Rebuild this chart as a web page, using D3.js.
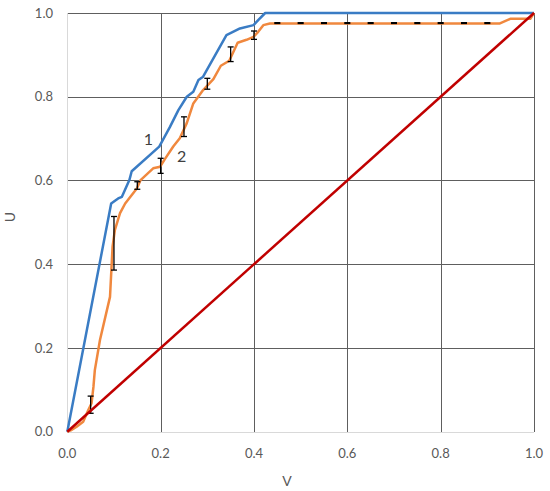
<!DOCTYPE html>
<meta charset="utf-8">
<style>
body { margin: 0; background: #fff; }
#chart { position: absolute; left: 0; top: 0; }
.grid line { stroke: #5e5e5e; stroke-width: 1px; shape-rendering: crispEdges; }
.axis-line { stroke: #d9d9d9; stroke-width: 1px; shape-rendering: crispEdges; }
.tick-label { font-family: Lato, "Open Sans", sans-serif; font-size: 13px; fill: #595959; }
.axis-title { font-family: Lato, "Open Sans", sans-serif; font-size: 14px; fill: #595959; }
.curve-label { font-family: Lato, "Open Sans", sans-serif; font-size: 16px; fill: #404040; }
.curve { fill: none; stroke-width: 2.5px; stroke-linejoin: round; }
.errbar { stroke: #000; stroke-width: 1.3px; }
</style>
<div id="chart"></div>
<script src="https://d3js.org/d3.v7.min.js"></script>
<script>
  // curve 1 (blue)
  var curve1_v = [0, 0.094, 0.109, 0.117, 0.133, 0.138, 0.197, 0.22, 0.238, 0.256, 0.27, 0.281, 0.291, 0.341, 0.37, 0.399, 0.409, 0.424, 1.0];
  var curve1_u = [0, 0.545, 0.557, 0.561, 0.601, 0.622, 0.681, 0.728, 0.768, 0.8, 0.812, 0.84, 0.848, 0.947, 0.963, 0.971, 0.983, 1.0, 1.0];

  // curve 2 (orange)
  var curve2_v = [0, 0.009, 0.02, 0.034, 0.045, 0.052, 0.056, 0.059, 0.07, 0.0915, 0.097, 0.102, 0.113, 0.124, 0.149, 0.157, 0.184, 0.199, 0.209, 0.227, 0.241, 0.256, 0.27, 0.291, 0.313, 0.329, 0.347, 0.365, 0.384, 0.399, 0.409, 0.42, 0.434, 0.927, 0.949, 0.992, 1.0];
  var curve2_u = [0, 0.004, 0.012, 0.024, 0.052, 0.068, 0.107, 0.147, 0.219, 0.322, 0.442, 0.482, 0.522, 0.545, 0.581, 0.601, 0.629, 0.633, 0.651, 0.681, 0.701, 0.737, 0.784, 0.816, 0.842, 0.874, 0.886, 0.929, 0.936, 0.943, 0.955, 0.971, 0.975, 0.975, 0.986, 0.986, 1.0];

  // error bars on curve 2
  var err_v  = [0.05, 0.1, 0.15, 0.2, 0.25, 0.3, 0.35, 0.4, 0.45, 0.5, 0.55, 0.6, 0.65, 0.7, 0.75, 0.8, 0.85, 0.9];
  var err_lo = [0.044, 0.386, 0.579, 0.617, 0.705, 0.818, 0.884, 0.937, 0.975, 0.975, 0.975, 0.975, 0.975, 0.975, 0.975, 0.975, 0.975, 0.975];
  var err_hi = [0.085, 0.514, 0.597, 0.653, 0.752, 0.844, 0.919, 0.957, 0.977, 0.977, 0.977, 0.977, 0.977, 0.977, 0.977, 0.977, 0.977, 0.977];

  // diagonal
  var diag_v = [0, 1];
  var diag_u = [0, 1];

  var ticks = [0, 0.2, 0.4, 0.6, 0.8, 1.0];
  var labels = [{text: "1", v: 0.174, u: 0.697}, {text: "2", v: 0.245, u: 0.657}];

  var width = 550, height = 491;
  var plotLeft = 67.3, plotRight = 534, plotTop = 13, plotBottom = 431.7;

  var x = d3.scaleLinear().domain([0, 1]).range([plotLeft, plotRight]);
  var y = d3.scaleLinear().domain([0, 1]).range([plotBottom, plotTop]);

  var svg = d3.select("#chart").append("svg")
    .attr("width", width)
    .attr("height", height);

  // gridlines
  var grid = svg.append("g").attr("class", "grid");
  grid.selectAll(".h").data(ticks.slice(1)).enter().append("line")
    .attr("x1", plotLeft).attr("x2", plotRight)
    .attr("y1", function(d) { return Math.round(y(d)) + 0.5; })
    .attr("y2", function(d) { return Math.round(y(d)) + 0.5; });
  grid.selectAll(".v").data(ticks.slice(1)).enter().append("line")
    .attr("y1", plotTop).attr("y2", plotBottom)
    .attr("x1", function(d) { return Math.round(x(d)) + 0.5; })
    .attr("x2", function(d) { return Math.round(x(d)) + 0.5; });

  svg.append("line").attr("class", "axis-line")
    .attr("x1", Math.round(plotLeft) + 0.5).attr("x2", Math.round(plotLeft) + 0.5)
    .attr("y1", plotTop).attr("y2", plotBottom);
  svg.append("line").attr("class", "axis-line")
    .attr("x1", plotLeft).attr("x2", plotRight)
    .attr("y1", Math.round(plotBottom) + 0.5).attr("y2", Math.round(plotBottom) + 0.5);

  // tick labels
  svg.selectAll(".ylab").data(ticks).enter().append("text")
    .attr("class", "tick-label")
    .attr("x", 53)
    .attr("y", function(d) { return y(d); })
    .attr("dy", "0.35em")
    .attr("text-anchor", "end")
    .text(function(d) { return d3.format(".1f")(d); });
  svg.selectAll(".xlab").data(ticks).enter().append("text")
    .attr("class", "tick-label")
    .attr("x", function(d) { return x(d); })
    .attr("y", 458)
    .attr("text-anchor", "middle")
    .text(function(d) { return d3.format(".1f")(d); });

  svg.append("text").attr("class", "axis-title")
    .attr("x", 287).attr("y", 486)
    .attr("text-anchor", "middle")
    .text("V");
  svg.append("text").attr("class", "axis-title")
    .attr("transform", "translate(15,217) rotate(-90)")
    .attr("text-anchor", "middle")
    .text("U");

  var line = d3.line()
    .x(function(d) { return x(d[0]); })
    .y(function(d) { return y(d[1]); });

  svg.append("path").attr("class", "curve")
    .attr("stroke", "#3a7cc4")
    .attr("d", line(d3.zip(curve1_v, curve1_u)));

  svg.append("path").attr("class", "curve")
    .attr("stroke", "#f0883e")
    .attr("d", line(d3.zip(curve2_v, curve2_u)));

  // error bars
  var errs = d3.zip(err_v, err_lo, err_hi);
  var eb = svg.append("g").selectAll("g").data(errs).enter().append("g");
  eb.append("line").attr("class", "errbar")
    .attr("x1", function(d) { return x(d[0]); }).attr("x2", function(d) { return x(d[0]); })
    .attr("y1", function(d) { return y(d[1]); }).attr("y2", function(d) { return y(d[2]); });
  eb.append("line").attr("class", "errbar")
    .attr("x1", function(d) { return x(d[0]) - 3; }).attr("x2", function(d) { return x(d[0]) + 3; })
    .attr("y1", function(d) { return y(d[1]); }).attr("y2", function(d) { return y(d[1]); });
  eb.append("line").attr("class", "errbar")
    .attr("x1", function(d) { return x(d[0]) - 3; }).attr("x2", function(d) { return x(d[0]) + 3; })
    .attr("y1", function(d) { return y(d[2]); }).attr("y2", function(d) { return y(d[2]); });

  svg.append("path").attr("class", "curve")
    .attr("stroke", "#c00000")
    .attr("d", line(d3.zip(diag_v, diag_u)));

  svg.selectAll(".clab").data(labels).enter().append("text")
    .attr("class", "curve-label")
    .attr("x", function(d) { return x(d.v); })
    .attr("y", function(d) { return y(d.u); })
    .attr("dy", "0.35em")
    .attr("text-anchor", "middle")
    .text(function(d) { return d.text; });
</script>
